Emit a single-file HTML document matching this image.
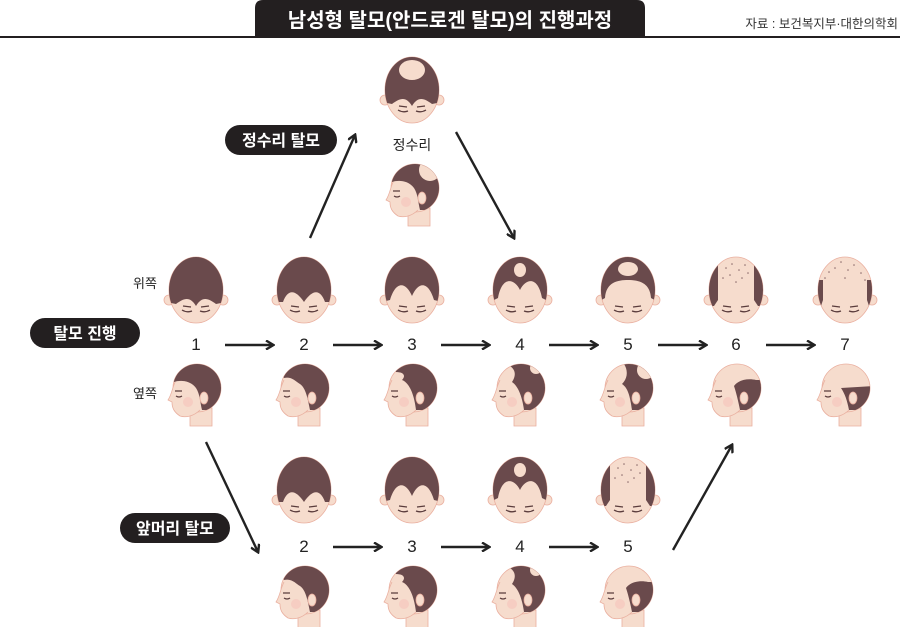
<!DOCTYPE html>
<html><head><meta charset="utf-8"><style>
html,body{margin:0;padding:0;background:#fff;}
svg{display:block;}
text{font-family:"Liberation Sans","Noto Sans CJK KR",sans-serif;}
</style></head><body>
<svg width="900" height="627" viewBox="0 0 900 627" xmlns="http://www.w3.org/2000/svg">
<defs>
<clipPath id="hc"><ellipse cx="0" cy="0" rx="27" ry="33"/></clipPath>
<clipPath id="sc"><circle cx="3" cy="-4" r="24"/></clipPath>
<marker id="ah" markerWidth="10" markerHeight="10" refX="8" refY="5" orient="auto" markerUnits="userSpaceOnUse">
<path d="M1,0.5 L8.5,5 L1,9.5" fill="none" stroke="#222" stroke-width="2.4"/></marker>
<g id="tb">
<circle cx="-27" cy="10" r="5" fill="#f6dccd" stroke="#eab0a0" stroke-width="0.8"/>
<circle cx="27" cy="10" r="5" fill="#f6dccd" stroke="#eab0a0" stroke-width="0.8"/>
<ellipse cx="0" cy="0" rx="27" ry="33" fill="#f6dccd" stroke="#eab0a0" stroke-width="0.8"/>
</g>
<g id="eyes"><path d="M-14,20 q5,3 10,1 M4,21 q5,2 10,-1 M-13,16 l8,1 M5,17 l8,-1" stroke="#5a3c3c" stroke-width="1.3" fill="none"/></g>
<g id="t1"><use href="#tb"/><path clip-path="url(#hc)" fill="#6a4a4c" d="M-30,12 L-20,14 C-12,8 -6,6 0,16 C6,6 12,8 20,14 L30,12 L30,-40 L-30,-40Z"/><use href="#eyes"/></g>
<g id="t2"><use href="#tb"/><path clip-path="url(#hc)" fill="#6a4a4c" d="M-30,12 L-21,12 C-16,-2 -8,0 0,12 C8,0 16,-2 21,12 L30,12 V-40 H-30Z"/><use href="#eyes"/></g>
<g id="t3"><use href="#tb"/><path clip-path="url(#hc)" fill="#6a4a4c" d="M-30,12 L-22,10 C-16,-10 -6,-8 0,6 C6,-8 16,-10 22,10 L30,12 V-40 H-30Z"/><use href="#eyes"/></g>
<g id="t4"><use href="#tb"/><path clip-path="url(#hc)" fill="#6a4a4c" d="M-30,12 L-22,8 C-18,-14 -6,-12 0,0 C6,-12 18,-14 22,8 L30,12 V-40 H-30Z"/><ellipse cx="0" cy="-20" rx="6" ry="7" fill="#f6dccd"/><use href="#eyes"/></g>
<g id="t5"><use href="#tb"/><path clip-path="url(#hc)" fill="#6a4a4c" d="M-30,12 L-23,8 C-22,-8 -10,-10 0,-10 C10,-10 22,-8 23,8 L30,12 V-40 H-30Z"/><ellipse cx="0" cy="-21" rx="10" ry="7" fill="#f6dccd"/><use href="#eyes"/></g>
<g id="t6"><use href="#tb"/><g clip-path="url(#hc)" fill="#6a4a4c"><path d="M-30,-30 L-18,-30 L-18,10 L-22,16 L-30,16Z"/><path d="M30,-30 L18,-30 L18,10 L22,16 L30,16Z"/></g><g fill="#8a6a6a"><circle cx="-10" cy="-22" r=".8"/><circle cx="-4" cy="-26" r=".8"/><circle cx="3" cy="-20" r=".8"/><circle cx="9" cy="-25" r=".8"/><circle cx="-6" cy="-15" r=".8"/><circle cx="6" cy="-12" r=".8"/><circle cx="12" cy="-17" r=".8"/><circle cx="-13" cy="-12" r=".8"/><circle cx="0" cy="-8" r=".8"/></g><use href="#eyes"/></g>
<g id="t7"><use href="#tb"/><g clip-path="url(#hc)" fill="#6a4a4c"><path d="M-30,-10 L-22,-10 L-22,10 L-24,16 L-30,16Z"/><path d="M30,-10 L22,-10 L22,10 L24,16 L30,16Z"/></g><g fill="#8a6a6a"><circle cx="-10" cy="-22" r=".8"/><circle cx="-4" cy="-28" r=".8"/><circle cx="3" cy="-20" r=".8"/><circle cx="9" cy="-25" r=".8"/><circle cx="-16" cy="-18" r=".8"/><circle cx="16" cy="-17" r=".8"/><circle cx="-20" cy="-12" r=".8"/><circle cx="20" cy="-10" r=".8"/><circle cx="0" cy="-12" r=".8"/></g><use href="#eyes"/></g>
<g id="tc"><use href="#tb"/><path clip-path="url(#hc)" fill="#6a4a4c" d="M-30,12 L-20,14 C-12,8 -6,6 0,16 C6,6 12,8 20,14 L30,12 L30,-40 L-30,-40Z"/><ellipse cx="0" cy="-20" rx="13" ry="10" fill="#f6dccd"/><use href="#eyes"/></g>
<g id="sb">
<path d="M-4,18 L-4,34 L18,34 L18,16Z" fill="#f6dccd" stroke="#eab0a0" stroke-width="0.8"/>
<circle cx="3" cy="-4" r="24" fill="#f6dccd" stroke="#eab0a0" stroke-width="0.8"/>
<path d="M-18,-12 C-22,-4 -22,2 -26,8 L-22,10 C-22,16 -20,20 -14,24 C-8,26 0,24 6,18" fill="#f6dccd" stroke="#eab0a0" stroke-width="0.8"/>
<circle cx="-6" cy="10" r="5" fill="#f7c6bd" opacity=".7"/>
<path d="M-18,4 q3,2 6,0 M-19,-1 l7,0" stroke="#5a3c3c" stroke-width="1.2" fill="none"/>
</g>
<g id="ear"><ellipse cx="10" cy="6" rx="4" ry="6" fill="#f6dccd" stroke="#eab0a0" stroke-width="0.8"/></g>
<g id="s1"><use href="#sb"/><path clip-path="url(#sc)" fill="#6a4a4c" d="M-20,-10 C-14,-12 -4,-12 2,-4 C6,2 6,10 8,18 L30,18 V-40 H-30Z"/><use href="#ear"/></g>
<g id="s2"><use href="#sb"/><path clip-path="url(#sc)" fill="#6a4a4c" d="M-18,-14 C-10,-16 -6,-10 -2,-8 C4,-4 6,8 8,18 L30,18 V-40 H-30Z"/><use href="#ear"/></g>
<g id="s3"><use href="#sb"/><path clip-path="url(#sc)" fill="#6a4a4c" d="M-14,-20 C-6,-20 -4,-16 -8,-12 C-2,-10 4,0 6,18 L30,18 V-40 H-20Z"/><use href="#ear"/></g>
<g id="s4"><use href="#sb"/><g clip-path="url(#sc)"><path fill="#6a4a4c" d="M-8,-26 C-2,-22 -2,-16 -6,-10 C0,-6 4,4 6,18 L30,18 V-40 H-10Z"/><circle cx="18" cy="-24" r="6" fill="#f6dccd"/></g><use href="#ear"/></g>
<g id="s5"><use href="#sb"/><g clip-path="url(#sc)"><path fill="#6a4a4c" d="M-2,-28 C2,-22 2,-14 -4,-8 C2,-4 4,4 6,18 L30,18 V-40 H0Z"/><circle cx="20" cy="-22" r="9" fill="#f6dccd"/></g><use href="#ear"/></g>
<g id="s6"><use href="#sb"/><path clip-path="url(#sc)" fill="#6a4a4c" d="M0,-6 C4,-12 14,-14 22,-12 L30,-12 V18 L6,18 C4,8 2,0 0,-6Z"/><use href="#ear"/></g>
<g id="s7"><use href="#sb"/><path clip-path="url(#sc)" fill="#6a4a4c" d="M-2,-4 L30,-6 V18 L6,18 C4,8 2,2 -2,-4Z"/><use href="#ear"/></g>
<g id="scw"><use href="#sb"/><g clip-path="url(#sc)"><path fill="#6a4a4c" d="M-20,-10 C-14,-12 -4,-12 2,-4 C6,2 6,10 8,18 L30,18 V-40 H-30Z"/><circle cx="18" cy="-22" r="11" fill="#f6dccd"/></g><use href="#ear"/></g>
</defs>

<path d="M255,37 L255,8 Q255,0 263,0 L637,0 Q645,0 645,8 L645,37Z" fill="#231f20"/>
<text x="450" y="27" fill="#fff" font-size="20" font-weight="bold" text-anchor="middle">남성형 탈모(안드로겐 탈모)의 진행과정</text>
<text x="898" y="28" fill="#333" font-size="12.5" text-anchor="end">자료 : 보건복지부·대한의학회</text>
<rect x="0" y="36" width="900" height="2" fill="#231f20"/>

<use href="#tc" x="412" y="90"/>
<text x="412" y="150" font-size="14" text-anchor="middle" fill="#222">정수리</text>
<use href="#scw" x="412" y="192"/>
<rect x="225" y="125" width="112" height="30" rx="15" fill="#231f20"/>
<text x="281" y="146" font-size="16" fill="#fff" text-anchor="middle" font-weight="bold">정수리 탈모</text>

<text x="145" y="288" font-size="13" text-anchor="middle" fill="#222">위쪽</text>
<text x="145" y="398" font-size="13" text-anchor="middle" fill="#222">옆쪽</text>
<rect x="30" y="318" width="110" height="30" rx="15" fill="#231f20"/>
<text x="85" y="339" font-size="16" fill="#fff" text-anchor="middle" font-weight="bold">탈모 진행</text>

<use href="#t1" x="196" y="290"/><use href="#t2" x="304" y="290"/><use href="#t3" x="412" y="290"/><use href="#t4" x="520" y="290"/><use href="#t5" x="628" y="290"/><use href="#t6" x="736" y="290"/><use href="#t7" x="845" y="290"/>
<g font-size="17" text-anchor="middle" fill="#222">
<text x="196" y="350">1</text><text x="304" y="350">2</text><text x="412" y="350">3</text><text x="520" y="350">4</text><text x="628" y="350">5</text><text x="736" y="350">6</text><text x="845" y="350">7</text>
</g>
<use href="#s1" x="194" y="392"/><use href="#s2" x="302" y="392"/><use href="#s3" x="410" y="392"/><use href="#s4" x="518" y="392"/><use href="#s5" x="626" y="392"/><use href="#s6" x="734" y="392"/><use href="#s7" x="843" y="392"/>

<g stroke="#222" stroke-width="2.4" marker-end="url(#ah)">
<line x1="225" y1="345" x2="273" y2="345"/>
<line x1="333" y1="345" x2="381" y2="345"/>
<line x1="441" y1="345" x2="489" y2="345"/>
<line x1="549" y1="345" x2="597" y2="345"/>
<line x1="658" y1="345" x2="706" y2="345"/>
<line x1="766" y1="345" x2="814" y2="345"/>
<line x1="310" y1="238" x2="355" y2="135"/>
<line x1="456" y1="132" x2="514" y2="238"/>
<line x1="206" y1="442" x2="258" y2="552"/>
<line x1="673" y1="550" x2="732" y2="445"/>
<line x1="333" y1="547" x2="381" y2="547"/>
<line x1="441" y1="547" x2="489" y2="547"/>
<line x1="549" y1="547" x2="597" y2="547"/>
</g>

<rect x="120" y="513" width="110" height="30" rx="15" fill="#231f20"/>
<text x="175" y="534" font-size="16" fill="#fff" text-anchor="middle" font-weight="bold">앞머리 탈모</text>
<use href="#t2" x="304" y="490"/><use href="#t3" x="412" y="490"/><use href="#t4" x="520" y="490"/><use href="#t6" x="628" y="490"/>
<g font-size="17" text-anchor="middle" fill="#222">
<text x="304" y="552">2</text><text x="412" y="552">3</text><text x="520" y="552">4</text><text x="628" y="552">5</text>
</g>
<use href="#s2" x="302" y="594"/><use href="#s3" x="410" y="594"/><use href="#s4" x="518" y="594"/><use href="#s6" x="626" y="594"/>
</svg>
</body></html>
